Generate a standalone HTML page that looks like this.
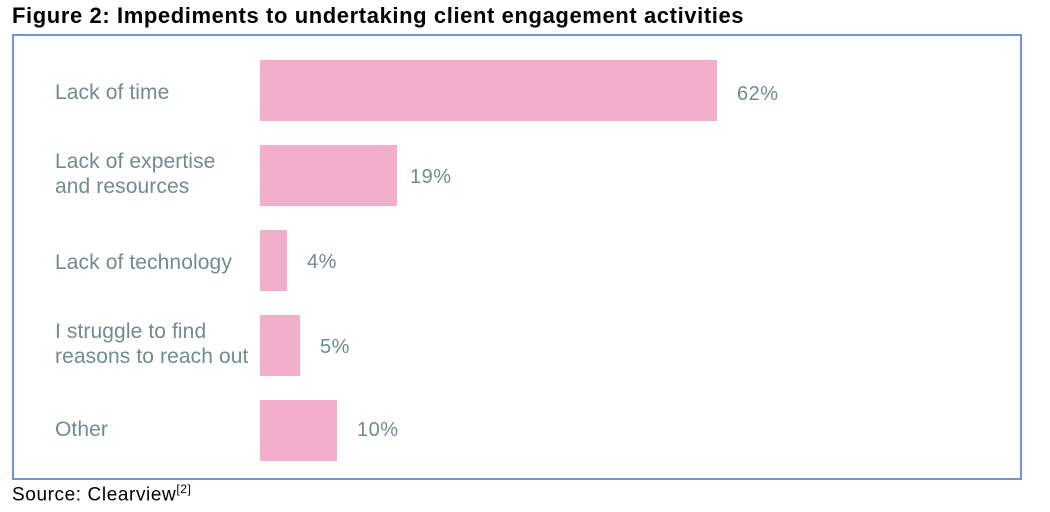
<!DOCTYPE html>
<html><head><style>
body{margin:0;width:1050px;height:512px;background:#fff;position:relative;overflow:hidden;font-family:"Liberation Sans",sans-serif}
.t{position:absolute;left:12px;top:3px;font-size:22px;font-weight:bold;color:#000;letter-spacing:0.6px}
.box{position:absolute;left:12px;top:34px;width:1006px;height:442px;border:2px solid #6f93d9}
.bar{position:absolute;left:260px;height:61px;background:#f2afcc}
.l{position:absolute;left:55px;font-size:21px;color:#6e8c91;line-height:25px;letter-spacing:0.1px}
.v{position:absolute;font-size:20px;color:#6e8c91;letter-spacing:0.5px}
.s{position:absolute;left:12px;top:482px;font-size:19px;color:#000;letter-spacing:0.6px}
</style></head><body>
<div class="t">Figure 2: Impediments to undertaking client engagement activities</div>
<div class="box"></div>
<div class="bar" style="top:60px;width:457px"></div>
<div class="bar" style="top:145px;width:137px"></div>
<div class="bar" style="top:230px;width:27px"></div>
<div class="bar" style="top:315px;width:40px"></div>
<div class="bar" style="top:400px;width:77px"></div>
<div class="l" style="top:80px">Lack of time</div>
<div class="l" style="top:149px">Lack of expertise<br>and resources</div>
<div class="l" style="top:250px">Lack of technology</div>
<div class="l" style="top:319px">I struggle to find<br>reasons to reach out</div>
<div class="l" style="top:417px">Other</div>
<div class="v" style="left:737px;top:83px">62%</div>
<div class="v" style="left:410px;top:166px">19%</div>
<div class="v" style="left:307px;top:251px">4%</div>
<div class="v" style="left:320px;top:336px">5%</div>
<div class="v" style="left:357px;top:419px">10%</div>
<div class="s">Source: Clearview<sup style="font-size:12px">[2]</sup></div>
</body></html>
